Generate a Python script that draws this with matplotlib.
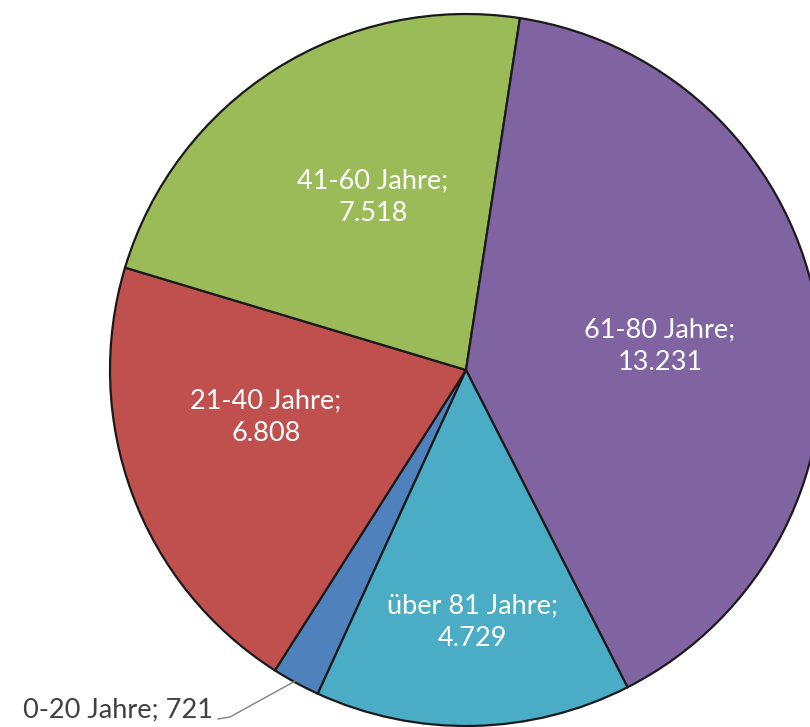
import matplotlib
matplotlib.use("Agg")
import matplotlib.pyplot as plt
import numpy as np

# ---- data ----
categories = ["0-20 Jahre", "21-40 Jahre", "41-60 Jahre", "61-80 Jahre", "über 81 Jahre"]
values = [721, 6808, 7518, 13231, 4729]

# ---- style ----
colors = ["#4F81BD", "#C0504D", "#9BBB59", "#8064A2", "#4BACC6"]
FONT = ["Lato", "DejaVu Sans"]

def fmt(v):
    return f"{v:,}".replace(",", ".")

W, H = 810, 727
cx, cy, R = 466, 370, 356  # pie centre / radius in pixels

def px(x, y):
    return ((x - cx) / R, (cy - y) / R)

fig = plt.figure(figsize=(W / 100, H / 100), dpi=100)
ax = fig.add_axes([0, 0, 1, 1])

wedges, _ = ax.pie(values, colors=colors, startangle=-114.6, counterclock=False,
                   radius=1.0, center=(0, 0),
                   wedgeprops=dict(edgecolor="#1a1a1a", linewidth=1.6))
ax.set_xlim(-cx / R, (W - cx) / R)
ax.set_ylim((cy - H) / R, cy / R)
ax.set_aspect("equal")
ax.axis("off")

# inside label anchor positions (pixels)
inside = {1: (266, 417), 2: (373, 197), 3: (660, 346), 4: (472, 622)}
for i, (x, y) in inside.items():
    tx, ty = px(x, y)
    ax.text(tx, ty, f"{categories[i]};\n{fmt(values[i])}",
            ha="center", va="center", color="white", fontsize=19.5,
            family=FONT, linespacing=1.4)

# outside label for smallest slice with leader line
w = wedges[0]
th = np.deg2rad((w.theta1 + w.theta2) / 2)
p_edge = (0.99 * np.cos(th), 0.99 * np.sin(th))
p_knee = px(230, 717)
p_end = px(218, 719)
ax.plot([p_edge[0], p_knee[0], p_end[0]], [p_edge[1], p_knee[1], p_end[1]],
        color="#808080", linewidth=1.0)
tx, ty = px(213, 710)
ax.text(tx, ty, f"{categories[0]}; {fmt(values[0])}",
        ha="right", va="center", color="#404040", fontsize=19.5, family=FONT)

fig.savefig("out.png", dpi=100, facecolor="white")
